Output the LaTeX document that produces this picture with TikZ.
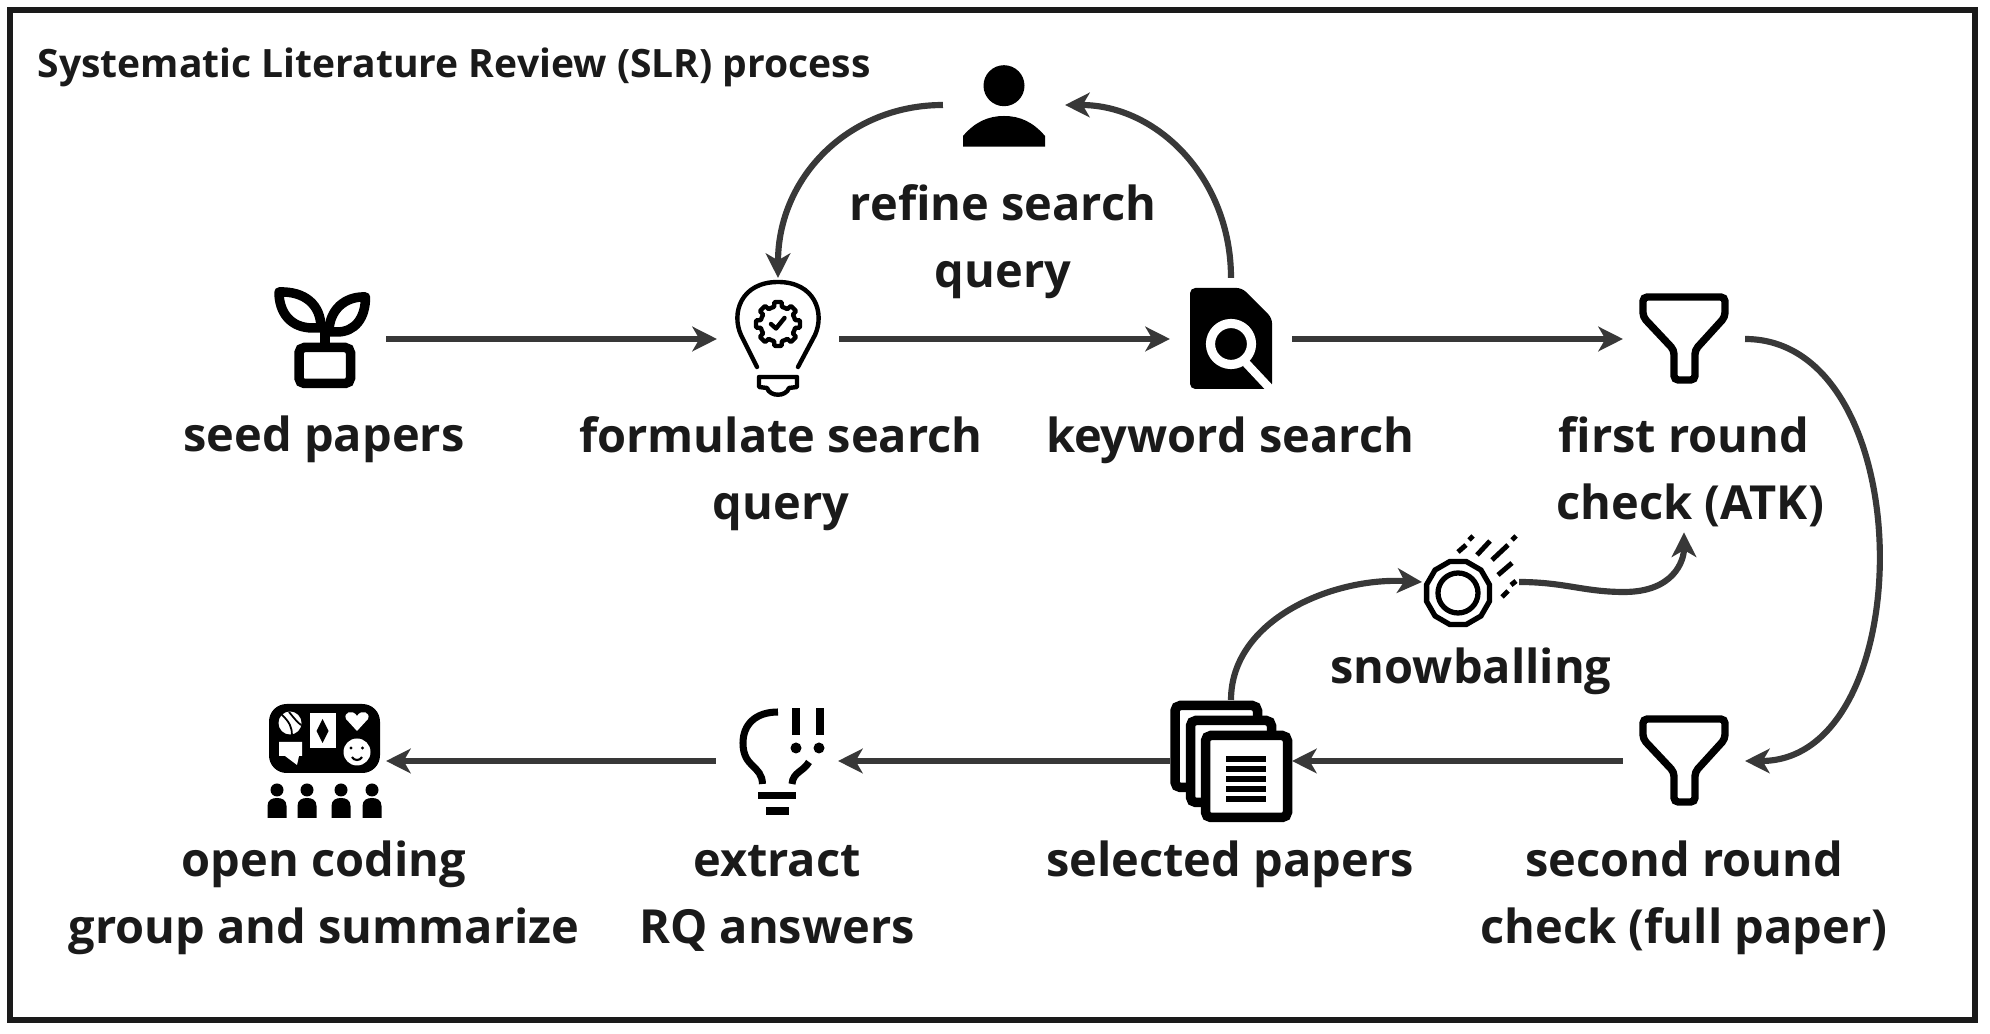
\documentclass[tikz,border=0pt]{standalone}
\usepackage{fontspec}
\setmainfont{Open Sans}
\usetikzlibrary{arrows.meta}

\definecolor{inkdark}{HTML}{1A1A1A}
\definecolor{arrowgrey}{HTML}{383838}

\begin{document}
\begin{tikzpicture}[
  x=0.01cm, y=-0.01cm,
  icon/.style   = {minimum size=1.22cm, inner sep=0pt, outer sep=0pt},
  lbl/.style    = {anchor=north, align=center, inner sep=0pt, text=inkdark,
                   font=\fontsize{13.35}{19}\selectfont\bfseries},
  arr/.style    = {-{Stealth[length=7pt,width=7pt,inset=2pt]},
                   line width=1.75pt, arrowgrey},
  outl/.style   = {line width=2.7pt, black},
  fine/.style   = {line width=1.25pt, black, line cap=round, line join=round},
  tube/.style   = {line width=2.1pt, black, rounded corners=1.2pt},
  sheet/.style  = {line width=2.7pt, black, fill=white, rounded corners=1.5pt},
]
\useasboundingbox (0,0) rectangle (1990,1034);
\draw[inkdark, line width=1.7pt] (10,10) rectangle (1975,1020);

\node[anchor=west, inner sep=0pt, text=inkdark,
      font=\fontsize{11.1}{13}\selectfont\bfseries] (title) at (37,67)
  {Systematic Literature Review (SLR) process};

% Icon places, the arrows end on them
\node[icon] (seed)     at (325,339) {};
\node[icon] (query)    at (778,339) {};
\node[icon] (keyword)  at (1231,339) {};
\node[icon] (first)    at (1684,339) {};
\node[icon] (refine)   at (1004,105) {};
\node[icon] (snow)     at (1458,582) {};
\node[icon] (second)   at (1684,761) {};
\node[icon] (selected) at (1231,761) {};
\node[icon] (extract)  at (777,761) {};
\node[icon] (coding)   at (325,761) {};

% Labels
\node[lbl] (seedlbl)     at (324,404) {\strut seed papers};
\node[lbl] (querylbl)    at (781,405) {\strut formulate search\\query};
\node[lbl] (keywordlbl)  at (1230,405) {\strut keyword search};
\node[lbl] (firstlbl)    at (1684,405) {\strut first round\\\hspace*{3.6pt}check (ATK)};
\node[lbl] (refinelbl)   at (1003,173) {\strut refine search\\query};
\node[lbl] (snowlbl)     at (1471,636) {\strut snowballing};
\node[lbl] (secondlbl)   at (1684,829) {\strut second round\\check (full paper)};
\node[lbl] (selectedlbl) at (1230,829) {\strut selected papers};
\node[lbl] (extractlbl)  at (777,829) {\strut extract\\RQ answers};
\node[lbl] (codinglbl)   at (324,829) {\strut open coding\\group and summarize};

% Plant
\draw[outl, line join=round] (279,292) .. controls (305,291) and (321,305) .. (321,328)
  -- (313,328) .. controls (290,328) and (279,312) .. (279,292) -- cycle;
\draw[outl, line join=round] (365.5,297) .. controls (345,296) and (329,310) .. (329,332)
  -- (337,332) .. controls (355,332) and (365.5,318) .. (365.5,297) -- cycle;
\draw[outl] (325,322) -- (325,345);
\draw[outl, rounded corners=1.5pt] (299,347.5) rectangle (350.5,383.5);

% Bulb with gear
\draw[fine] (757,367) -- (741,335) .. controls (731,313) and (741,282) .. (778,282)
  .. controls (815,282) and (825,313) .. (815,335) -- (798,367);
\draw[fine] plot[domain=0:360, samples=193]
  ({778+min(22,max(17.5,19.5+12*cos(8*\x)))*cos(\x)},
   {324+min(22,max(17.5,19.5+12*cos(8*\x)))*sin(\x)}) -- cycle;
\draw[fine] (771,324) -- (776,328.5) -- (784.5,318);
\draw[fine] (759,377) -- (797,377) -- (797,387) -- (789,388)
  .. controls (786,397) and (770,397) .. (767,388) -- (759,387) -- cycle;

% Document with magnifier
\fill[black, rounded corners=1.5pt] (1190,288) -- (1242,288) -- (1272,318)
  -- (1272,389) -- (1190,389) -- cycle;
\draw[white, line width=2.6pt] (1231,344) circle (20.5);
\draw[white, line width=2.4pt] (1246,363) -- (1276,395);

% Funnels
\foreach \fy in {0,422} {
  \draw[tube] (1643,{297+\fy}) -- (1725,{297+\fy}) -- (1725,{317+\fy}) -- (1695,{350+\fy})
    -- (1695,{380+\fy}) -- (1674,{380+\fy}) -- (1674,{350+\fy}) -- (1643,{317+\fy}) -- cycle;
}

% Person
\fill[black] (1004,85.7) circle (20.5);
\fill[black] (963,146.7) -- (963,136) .. controls (975,122) and (988,116) .. (1004,116)
  .. controls (1020,116) and (1033,122) .. (1045,136) -- (1045,146.7) -- cycle;

% Snowball
\draw[line width=1.5pt, black] plot[samples at={0,30,...,330}]
  ({1458+32.5*cos(\x+15)}, {593+32.5*sin(\x+15)}) -- cycle;
\draw[line width=1.5pt, black] (1458,593) circle (20);
\foreach \xa/\ya/\xb/\yb in {1458/552/1466/545, 1469/540/1473/536, 1477/555/1490/541,
    1492/560/1508/545, 1512/540/1516/536, 1498/575/1512/563,
    1511/585/1516/581, 1502/597/1508/591}
  \draw[line width=1.4pt, black] (\xa,\ya) -- (\xb,\yb);

% Paper stack
\draw[sheet] (1175,705.5) rectangle (1257.5,787.5);
\draw[sheet] (1190.5,720.5) rectangle (1271.5,802.5);
\draw[sheet] (1205.5,735.5) rectangle (1287.5,817.5);
\foreach \ly in {759,769,779,789,799}
  \draw[line width=1.5pt, black] (1226,\ly) -- (1266,\ly);

% Bulb with marks
\draw[line width=2pt, black] (778,712) .. controls (755,712) and (743,725) .. (743,743)
  .. controls (743,768) and (762,765) .. (762.5,784);
\draw[line width=2pt, black] (809,762) .. controls (803,772) and (793,772) .. (792,784);
\fill[black] (792,708) rectangle (800,735);
\fill[black] (815.5,708) rectangle (823.5,735);
\fill[black] (796,748) circle (5.5);
\fill[black] (819,748) circle (5.5);
\fill[black] (758,792) rectangle (796,799);
\fill[black] (766,807) rectangle (789,815);

% Panel and people
\fill[black, rounded corners=5pt] (269,704) rectangle (380,773);
\fill[white] (290,723) circle (11.5);
\draw[black, line width=0.5pt] (281,714) .. controls (290,722) and (292,728) .. (292,735);
\draw[black, line width=0.5pt] (289,712) .. controls (294,718) and (297,722) .. (301,725);
\fill[white] (309.5,713) rectangle (336,748);
\fill[black] (322.5,719) -- (328.5,731) -- (322.5,743) -- (316.5,731) -- cycle;
\fill[white] (357,731) -- (346,719) .. controls (343,712) and (353,709) .. (357,716)
  .. controls (361,709) and (371,712) .. (368,719) -- cycle;
\fill[white] (279,742) -- (302,742) -- (302,756) -- (299,756) -- (297,765) -- (285,756)
  -- (279,756) -- cycle;
\fill[white] (357,752) circle (13.5);
\fill[black] (351,748) circle (1.6);
\fill[black] (362.5,748) circle (1.6);
\draw[black, line width=0.6pt] (352,757) .. controls (354,761) and (360,761) .. (362,757);
\foreach \px in {277,307,341,372} {
  \fill[black] (\px,790) circle (6.5);
  \fill[black] ({\px-9.5},818) -- ({\px-9.5},806) .. controls ({\px-9.5},800) and ({\px-5},798)
    .. (\px,798) .. controls ({\px+5},798) and ({\px+9.5},800) .. ({\px+9.5},806)
    -- ({\px+9.5},818) -- cycle;
}

% Top row
\draw[arr] (seed.east) -- (query.west);
\draw[arr] (query.east) -- (keyword.west);
\draw[arr] (keyword.east) -- (first.west);
\draw[arr] (keyword.north) .. controls +(0,-100) and +(92,0) .. (refine.east);
\draw[arr] (refine.west) .. controls +(-95,0) and +(0,-100) .. (query.north);
\draw[arr] (first.east) .. controls +(177,0) and +(177,0) .. (second.east);

% Bottom row
\draw[arr] (second.west) -- (selected.east);
\draw[arr] (selected.west) -- (extract.east);
\draw[arr] (extract.west) -- (coding.east);

% Snowballing loop
\coordinate (snowbend) at (1624,592);
\draw[arr] (selected.north) .. controls +(0,-80) and +(-90,-5) .. ([xshift=0.25cm]snow.west);
\draw[arr] (snow.east) .. controls +(45,0) and +(-40,0) .. (snowbend)
  .. controls +(50,0) and +(0,28) .. ([yshift=-0.05cm]firstlbl.south);

\end{tikzpicture}
\end{document}
